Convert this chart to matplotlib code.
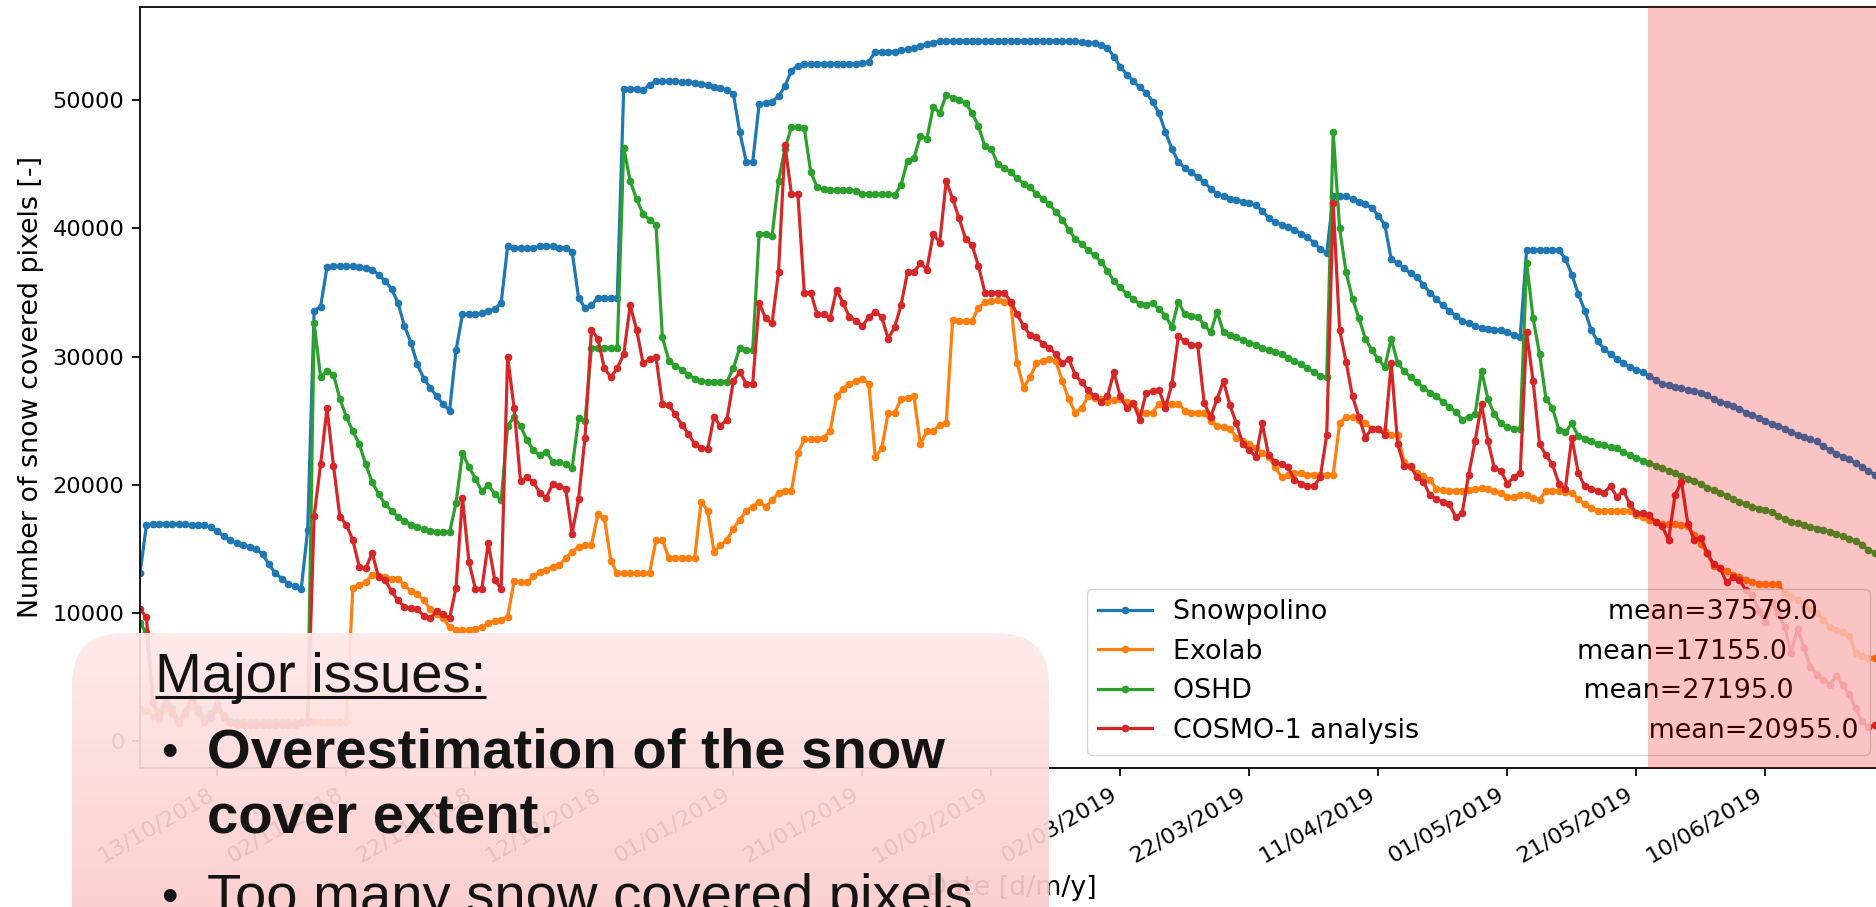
import matplotlib
matplotlib.use("Agg")
import matplotlib.pyplot as plt
import matplotlib.dates as mdates
import numpy as np
import pandas as pd
from matplotlib.patches import FancyBboxPatch

# daily snow covered pixel counts, starting 2018-10-01
start_date = "2018-10-01"

snowpolino = [
    13100, 16900, 16950, 16950, 16950, 16950, 16950, 16950, 16900, 16900,
    16850, 16700, 16400, 16000, 15700, 15450, 15300, 15200, 15000, 14600,
    13800, 13100, 12700, 12300, 12100, 11900, 16500, 33600, 33900, 37000,
    37050, 37050, 37050, 37050, 37000, 36950, 36800, 36400, 35900, 35300,
    34200, 32400, 31100, 29400, 28300, 27600, 26900, 26300, 25800, 30500,
    33300, 33300, 33300, 33400, 33600, 33700, 34200, 38600, 38500, 38500,
    38500, 38500, 38600, 38600, 38600, 38500, 38500, 38200, 34600, 33800,
    34000, 34600, 34600, 34600, 34600, 50900, 50900, 50900, 50800, 51200,
    51500, 51500, 51500, 51500, 51450, 51400, 51350, 51250, 51150, 51050,
    50950, 50800, 50500, 47500, 45200, 45200, 49700, 49800, 49900, 50300,
    51100, 52300, 52700, 52800, 52800, 52850, 52850, 52850, 52850, 52850,
    52850, 52850, 52900, 53000, 53800, 53800, 53800, 53800, 53900, 54000,
    54100, 54200, 54400, 54500, 54600, 54650, 54650, 54650, 54650, 54650,
    54650, 54650, 54650, 54650, 54650, 54650, 54650, 54650, 54650, 54650,
    54650, 54650, 54650, 54600, 54600, 54600, 54550, 54500, 54450, 54300,
    54100, 53400, 52600, 52000, 51500, 51000, 50600, 49900, 49000, 47500,
    46200, 45200, 44700, 44400, 44000, 43600, 43100, 42700, 42500, 42300,
    42200, 42100, 42000, 41800, 41400, 40800, 40500, 40300, 40100, 39900,
    39600, 39300, 38900, 38400, 38100, 42500, 42500, 42500, 42300, 42100,
    41900, 41600, 41000, 40300, 37600, 37300, 36900, 36500, 36200, 35600,
    35000, 34500, 34000, 33600, 33200, 32800, 32600, 32400, 32250, 32150,
    32100, 32050, 31900, 31700, 31550, 38350, 38350, 38350, 38350, 38350,
    38300, 37650, 36400, 34900, 33600, 32100, 31200, 30600, 30200, 29800,
    29500, 29200, 29000, 28800, 28500, 28200, 27900, 27800, 27650, 27550,
    27400, 27300, 27200, 27000, 26700, 26500, 26350, 26150, 25950, 25650,
    25450, 25200, 24950, 24750, 24600, 24400, 24150, 23900, 23750, 23550,
    23400, 23000, 22700, 22450, 22200, 22000, 21700, 21400, 21100, 20800,
    20600,
]

exolab = [
    2600, 2400, 2000, 1700, 2600, 2200, 1600, 2000, 2800, 2200,
    1700, 1900, 2500, 1900, 1600, 1500, 1500, 1500, 1500, 1500,
    1500, 1500, 1500, 1500, 1500, 1500, 1500, 1500, 1500, 1500,
    1500, 1500, 1500, 12000, 12200, 12400, 13000, 12900, 12800, 12700,
    12700, 12200, 11700, 11500, 11000, 10300, 9900, 9600, 8900, 8700,
    8700, 8700, 8800, 8900, 9200, 9400, 9500, 9700, 12500, 12400,
    12400, 12900, 13200, 13400, 13600, 13750, 14300, 14800, 15150, 15300,
    15350, 17700, 17400, 14100, 13100, 13100, 13100, 13100, 13100, 13100,
    15700, 15700, 14300, 14300, 14300, 14300, 14300, 18700, 18000, 14800,
    15300, 15700, 16600, 17300, 18000, 18300, 18700, 18300, 18800, 19400,
    19500, 19500, 22500, 23550, 23550, 23600, 23700, 24200, 26900, 27500,
    27900, 28100, 28250, 27900, 22150, 22850, 25600, 25600, 26700, 26800,
    26900, 23200, 24200, 24200, 24700, 24800, 32900, 32800, 32800, 32800,
    33800, 34300, 34350, 34400, 34300, 34200, 29500, 27600, 28400, 29500,
    29700, 29800, 29650, 28100, 26700, 25650, 26000, 26900, 26800, 26700,
    26500, 26600, 26700, 26500, 26350, 25650, 25650, 25650, 26350, 26350,
    26350, 26350, 25800, 25650, 25650, 25650, 24950, 24600, 24500, 24400,
    23700, 23400, 23200, 22900, 22500, 22200, 21400, 20600, 20800, 20900,
    20950, 20800, 20800, 20800, 20800, 20800, 24800, 25300, 25300, 25100,
    24800, 24400, 24400, 24200, 23900, 23900, 21800, 21400, 20950, 20700,
    20400, 19700, 19600, 19550, 19550, 19560, 19600, 19650, 19730, 19700,
    19500, 19380, 19040, 19100, 19200, 19210, 19000, 18860, 19560, 19560,
    19560, 19450, 19380, 18900, 18500, 18200, 17990, 17990, 17990, 17990,
    17990, 17990, 17640, 17500, 17300, 17120, 16950, 16950, 16950, 16850,
    16780, 16080, 15380, 14690, 13650, 13500, 13300, 12950, 12800, 12600,
    12430, 12300, 12250, 12250, 12250, 11560, 11300, 11040, 10700, 10300,
    9990, 9500, 8950, 8700, 8500, 8260, 6860, 6700, 6520, 6520,
    6520,
]

oshd = [
    9200, 8500, 3200, 2200, 3400, 2600, 1600, 2400, 3400, 2600,
    1800, 2200, 3000, 2100, 1600, 1500, 1450, 1400, 1400, 1400,
    1400, 1400, 1400, 1400, 1450, 1500, 1600, 32600, 28400, 28900,
    28600, 26700, 25300, 24200, 23200, 21600, 20200, 19300, 18500, 18000,
    17500, 17200, 16900, 16700, 16550, 16400, 16350, 16350, 16300, 18600,
    22500, 21400, 20500, 19500, 20000, 19300, 18800, 24600, 25300, 24600,
    23500, 22700, 22300, 22600, 21800, 21800, 21600, 21300, 25200, 25000,
    30700, 30700, 30700, 30700, 30700, 46300, 43700, 42300, 41100, 40700,
    40300, 31500, 29700, 29300, 29000, 28600, 28300, 28100, 28050, 28050,
    28050, 28050, 29100, 30700, 30500, 30500, 39600, 39600, 39400, 43700,
    46200, 47900, 47900, 47800, 44400, 43200, 43050, 43000, 43000, 43000,
    43000, 42900, 42700, 42700, 42700, 42650, 42700, 42600, 43400, 45300,
    45500, 47200, 47000, 49500, 49000, 50400, 50200, 50000, 49800, 49000,
    48000, 46400, 46200, 45000, 44700, 44400, 43900, 43500, 43200, 42700,
    42300, 41900, 41300, 40700, 39900, 39200, 38800, 38300, 37900, 37400,
    36700, 35900, 35400, 34900, 34500, 34100, 34000, 34200, 33700, 33200,
    32300, 34300, 33300, 33200, 33100, 32500, 31900, 33500, 31900, 31700,
    31500, 31300, 31100, 30900, 30700, 30500, 30400, 30200, 29900, 29700,
    29400, 29100, 28800, 28500, 28400, 47500, 40000, 36600, 34500, 33000,
    31400, 30500, 29800, 29200, 31400, 29500, 28900, 28400, 28000, 27600,
    27200, 26900, 26500, 26100, 25700, 25100, 25300, 25500, 28900, 26700,
    25500, 24800, 24500, 24400, 24400, 37300, 33000, 30200, 26700, 26000,
    24300, 24100, 24800, 23800, 23600, 23400, 23200, 23100, 22950, 22850,
    22600, 22300, 22100, 21900, 21700, 21500, 21300, 21100, 20900, 20700,
    20500, 20300, 20100, 19800, 19600, 19400, 19150, 18900, 18700, 18500,
    18300, 18150, 18050, 17900, 17600, 17350, 17150, 17000, 16900, 16750,
    16600, 16500, 16350, 16200, 16000, 15800, 15650, 15350, 14900, 14700,
    14500,
]

cosmo = [
    10300, 9700, 3000, 1800, 3000, 2200, 1400, 2200, 3200, 2300,
    1500, 1800, 2800, 1900, 1400, 1300, 1300, 1300, 1300, 1300,
    1300, 1300, 1300, 1300, 1300, 1400, 1500, 17600, 21600, 26000,
    21500, 17500, 16900, 15700, 13600, 13500, 14700, 12800, 12600, 11700,
    11000, 10500, 10400, 10300, 9800, 9600, 10150, 9900, 9600, 12000,
    19000, 14000, 11900, 11900, 15500, 12600, 11900, 30000, 26000, 20300,
    20600, 20200, 19400, 19000, 20100, 19900, 19700, 16200, 18900, 23700,
    32100, 31400, 29100, 28400, 29100, 30200, 34000, 32100, 29500, 29800,
    30000, 26300, 26200, 25500, 24700, 24000, 23200, 22900, 22800, 25300,
    24600, 25100, 28100, 28800, 27900, 27900, 34200, 33000, 32600, 36600,
    46500, 42700, 42700, 35000, 35000, 33300, 33300, 33000, 35200, 34200,
    33100, 32800, 32400, 33100, 33500, 33100, 31400, 32300, 34000, 36600,
    36600, 37300, 36800, 39600, 38900, 43700, 42300, 40800, 39200, 38700,
    37100, 35000, 35000, 35000, 35000, 34300, 33300, 32400, 31700, 31500,
    31000, 30700, 30200, 29500, 29800, 28600, 28000, 27400, 26900, 26500,
    26900, 28800, 26900, 26000, 26400, 25100, 27200, 27300, 27400, 26000,
    27900, 31600, 31200, 30900, 30900, 26400, 25300, 26700, 28100, 26200,
    24800, 23200, 22700, 22200, 24800, 22300, 21800, 21600, 21400, 20400,
    20100, 19900, 19900, 20600, 23900, 42000, 32100, 29600, 26900, 25300,
    23700, 24400, 24400, 23900, 29500, 23200, 21450, 21450, 20600, 20250,
    19200, 18900, 18700, 18500, 17500, 17800, 20800, 23400, 26300, 23400,
    21300, 21100, 20100, 20600, 20950, 31900, 28100, 23200, 22300, 21600,
    20100, 19700, 23700, 20950, 19900, 19700, 19550, 19400, 19900, 19050,
    19550, 18500, 17800, 17800, 17650, 17100, 16800, 15700, 19200, 20250,
    16950, 15700, 15900, 14700, 13800, 13500, 12400, 12800, 12600, 11800,
    11400, 10200, 9300, 10900, 9900, 8950, 6900, 8800, 7300, 5800,
    5200, 4800, 4400, 5100, 4400, 3700, 2600, 1600, 1100, 1300,
    1500,
]

names = ["Snowpolino", "Exolab", "OSHD", "COSMO-1 analysis"]
means = ["37579.0", "17155.0", "27195.0", "20955.0"]
gaps = [33, 37, 39, 27]

span_start = pd.Timestamp("2019-05-22 18:00")
tick_dates = pd.date_range("2018-10-13", "2019-06-20", freq="20D")

issue_title = "Major issues:"
issue_lines = ["Overestimation of the snow", "cover extent"]
issue_second = "Too many snow covered pixels"

W, H = 1876, 907
fig = plt.figure(figsize=(W / 100, H / 100), dpi=100)
fig.patch.set_facecolor("white")

ax = fig.add_axes([140 / W, 139 / H, 1743 / W, 761 / H])

dates = pd.date_range(start_date, periods=len(snowpolino), freq="D")
series = [snowpolino, exolab, oshd, cosmo]
labels = [f"{n}{' ' * g}mean={m}" for n, g, m in zip(names, gaps, means)]
for vals, lab in zip(series, labels):
    ax.plot(dates, vals, marker=".", markersize=9, linewidth=2.3, label=lab)

x_end = dates[-1] + pd.Timedelta(hours=6)
ax.set_xlim(dates[0], x_end)
ax.set_ylim(-2070, 57270)
ax.set_xticks(tick_dates)
ax.xaxis.set_major_formatter(mdates.DateFormatter("%d/%m/%Y"))
ax.tick_params(axis="both", labelsize=16.2, length=5.6, width=1.28, pad=5.6)
plt.setp(ax.get_xticklabels(), rotation=30, ha="right")
for sp in ax.spines.values():
    sp.set_linewidth(1.28)

ax.set_ylabel("Number of snow covered pixels [-]", fontsize=19.4, labelpad=6.4)
ax.set_xlabel("Date [d/m/y]", fontsize=19.4, labelpad=6.4)
ax.legend(loc="lower right", fontsize=19.4)

ax.axvspan(span_start, x_end + pd.Timedelta(days=5), color=(0.95, 0.0, 0.0),
           alpha=0.23, linewidth=0, zorder=10)

# slide callout on top of the chart
ov = fig.add_axes([0, 0, 1, 1], zorder=10)
ov.axis("off")

box = FancyBboxPatch((72, 633), 977, 420, boxstyle="round,pad=0,rounding_size=52",
                     facecolor="none", edgecolor="none")
ov.add_patch(box)

n = 256
top_col = np.array([1.0, 0.915, 0.915])
bot_col = np.array([0.985, 0.80, 0.80])
t = np.linspace(0, 1, n)[:, None]
grad = np.zeros((n, 1, 4))
grad[:, :, :3] = top_col * (1 - t[..., None]) + bot_col * t[..., None]
grad[:, :, 3] = 0.92
im = ov.imshow(grad, extent=[72, 1049, 907, 633], aspect="auto", interpolation="bilinear")
im.set_clip_path(box)

ov.set_xlim(0, W)
ov.set_ylim(H, 0)

txt_col = "#141414"
font = "Liberation Sans"
title = ov.text(155, 692, issue_title, fontsize=40.5, family=font, color=txt_col,
                va="baseline", ha="left")
ov.text(161, 766, "\u2022", fontsize=34, family=font, color=txt_col, va="baseline")
ov.text(207, 768, issue_lines[0], fontsize=40.5, family=font, weight="bold",
        color=txt_col, va="baseline")
l2 = ov.text(207, 833, issue_lines[1], fontsize=40.5, family=font, weight="bold",
             color=txt_col, va="baseline")
ov.text(161, 911, "\u2022", fontsize=34, family=font, color=txt_col, va="baseline")
ov.text(207, 913, issue_second, fontsize=40.5, family=font, color=txt_col, va="baseline")

fig.canvas.draw()
r = fig.canvas.get_renderer()
bb = title.get_window_extent(r)
ov.plot([bb.x0, bb.x1], [697, 697], color=txt_col, linewidth=2.2, solid_capstyle="butt")
bb2 = l2.get_window_extent(r)
ov.text(bb2.x1, 833, ".", fontsize=40.5, family=font, color=txt_col, va="baseline")

fig.savefig("out.png", dpi=100)
